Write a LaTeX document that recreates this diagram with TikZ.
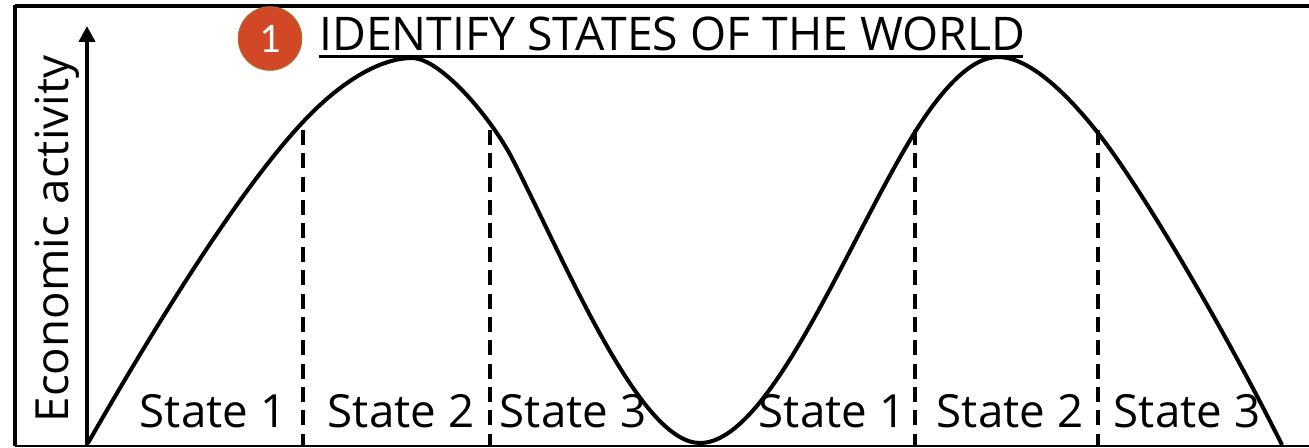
\documentclass[tikz,border=0pt]{standalone}
\usepackage{fontspec}
\setmainfont{Open Sans}
\newfontfamily\szamfont{Carlito}
\usetikzlibrary{arrows.meta,positioning}
\definecolor{badge}{HTML}{D24726}
\definecolor{badgeline}{HTML}{AE6A2E}
\tikzset{
  kurva/.style={line width=2.3pt,line join=round},
  szak/.style={line width=1.9pt,dash pattern=on 8.5pt off 4.8pt},
  tengely/.style={line width=2.8pt,-{Triangle[length=9pt,width=9pt]}},
  felirat/.style={inner sep=0pt,font=\fontsize{26}{30}\selectfont},
}
\begin{document}
\begin{tikzpicture}[x=0.02cm,y=-0.02cm]
  \useasboundingbox (0,0) rectangle (1309,447);
  % frame
  \draw[line width=2.3pt] (15,6) -- (1309,6);
  \draw[line width=2.3pt] (15,5) -- (15,446);
  \draw[line width=1pt] (15,446) -- (1309,446);
  % axis
  \coordinate (o) at (87,446);
  \coordinate (ytop) at (87,26);
  \draw[tengely] (o) -- (ytop);
  \node[felirat,rotate=90] (ylab) at (57,239) {Economic activity};
  % curve
  \draw[kurva] (88,443) .. controls (150,335) and (235,195) .. (302,123)
    .. controls (340,82) and (380,58) .. (412,58)
    .. controls (440,58) and (491,117) .. (513,160)
    .. controls (568,268) and (640,443) .. (700,443)
    .. controls (770,443) and (848,240) .. (915,132)
    .. controls (940,92) and (970,57) .. (998,57)
    .. controls (1030,57) and (1068,95) .. (1098,133)
    .. controls (1140,186) and (1225,330) .. (1282,445);
  % states
  \foreach \nev/\x in {1/303,2/490,3/915,4/1098}{
    \coordinate (a\nev) at (\x,130);
    \coordinate (b\nev) at (\x,446);
    \draw[szak] (a\nev) -- (b\nev);
  }
  \node[felirat] (s1) at (213,411) {State 1};
  \node[felirat] (s2) at (401,411) {State 2};
  \node[felirat] (s3) at (573,411) {State 3};
  \node[felirat] (s4) at (832,411) {State 1};
  \node[felirat] (s5) at (1010,411) {State 2};
  \node[felirat] (s6) at (1187,411) {State 3};
  % title
  \node[circle,fill=badge,draw=badgeline,line width=0.6pt,minimum size=1.27cm,inner sep=0pt,
    text=white,font=\szamfont\fontsize{24}{26}\selectfont] (num) at (270,38.5) {1};
  \node[felirat,anchor=west,font=\fontsize{26.4}{30}\selectfont] (cim) at (319,34) {IDENTIFY STATES OF THE WORLD};
  \coordinate (u1) at (319,56.5);
  \coordinate (u2) at (1023,56.5);
  \draw[line width=1.4pt] (u1) -- (u2);
\end{tikzpicture}
\end{document}
